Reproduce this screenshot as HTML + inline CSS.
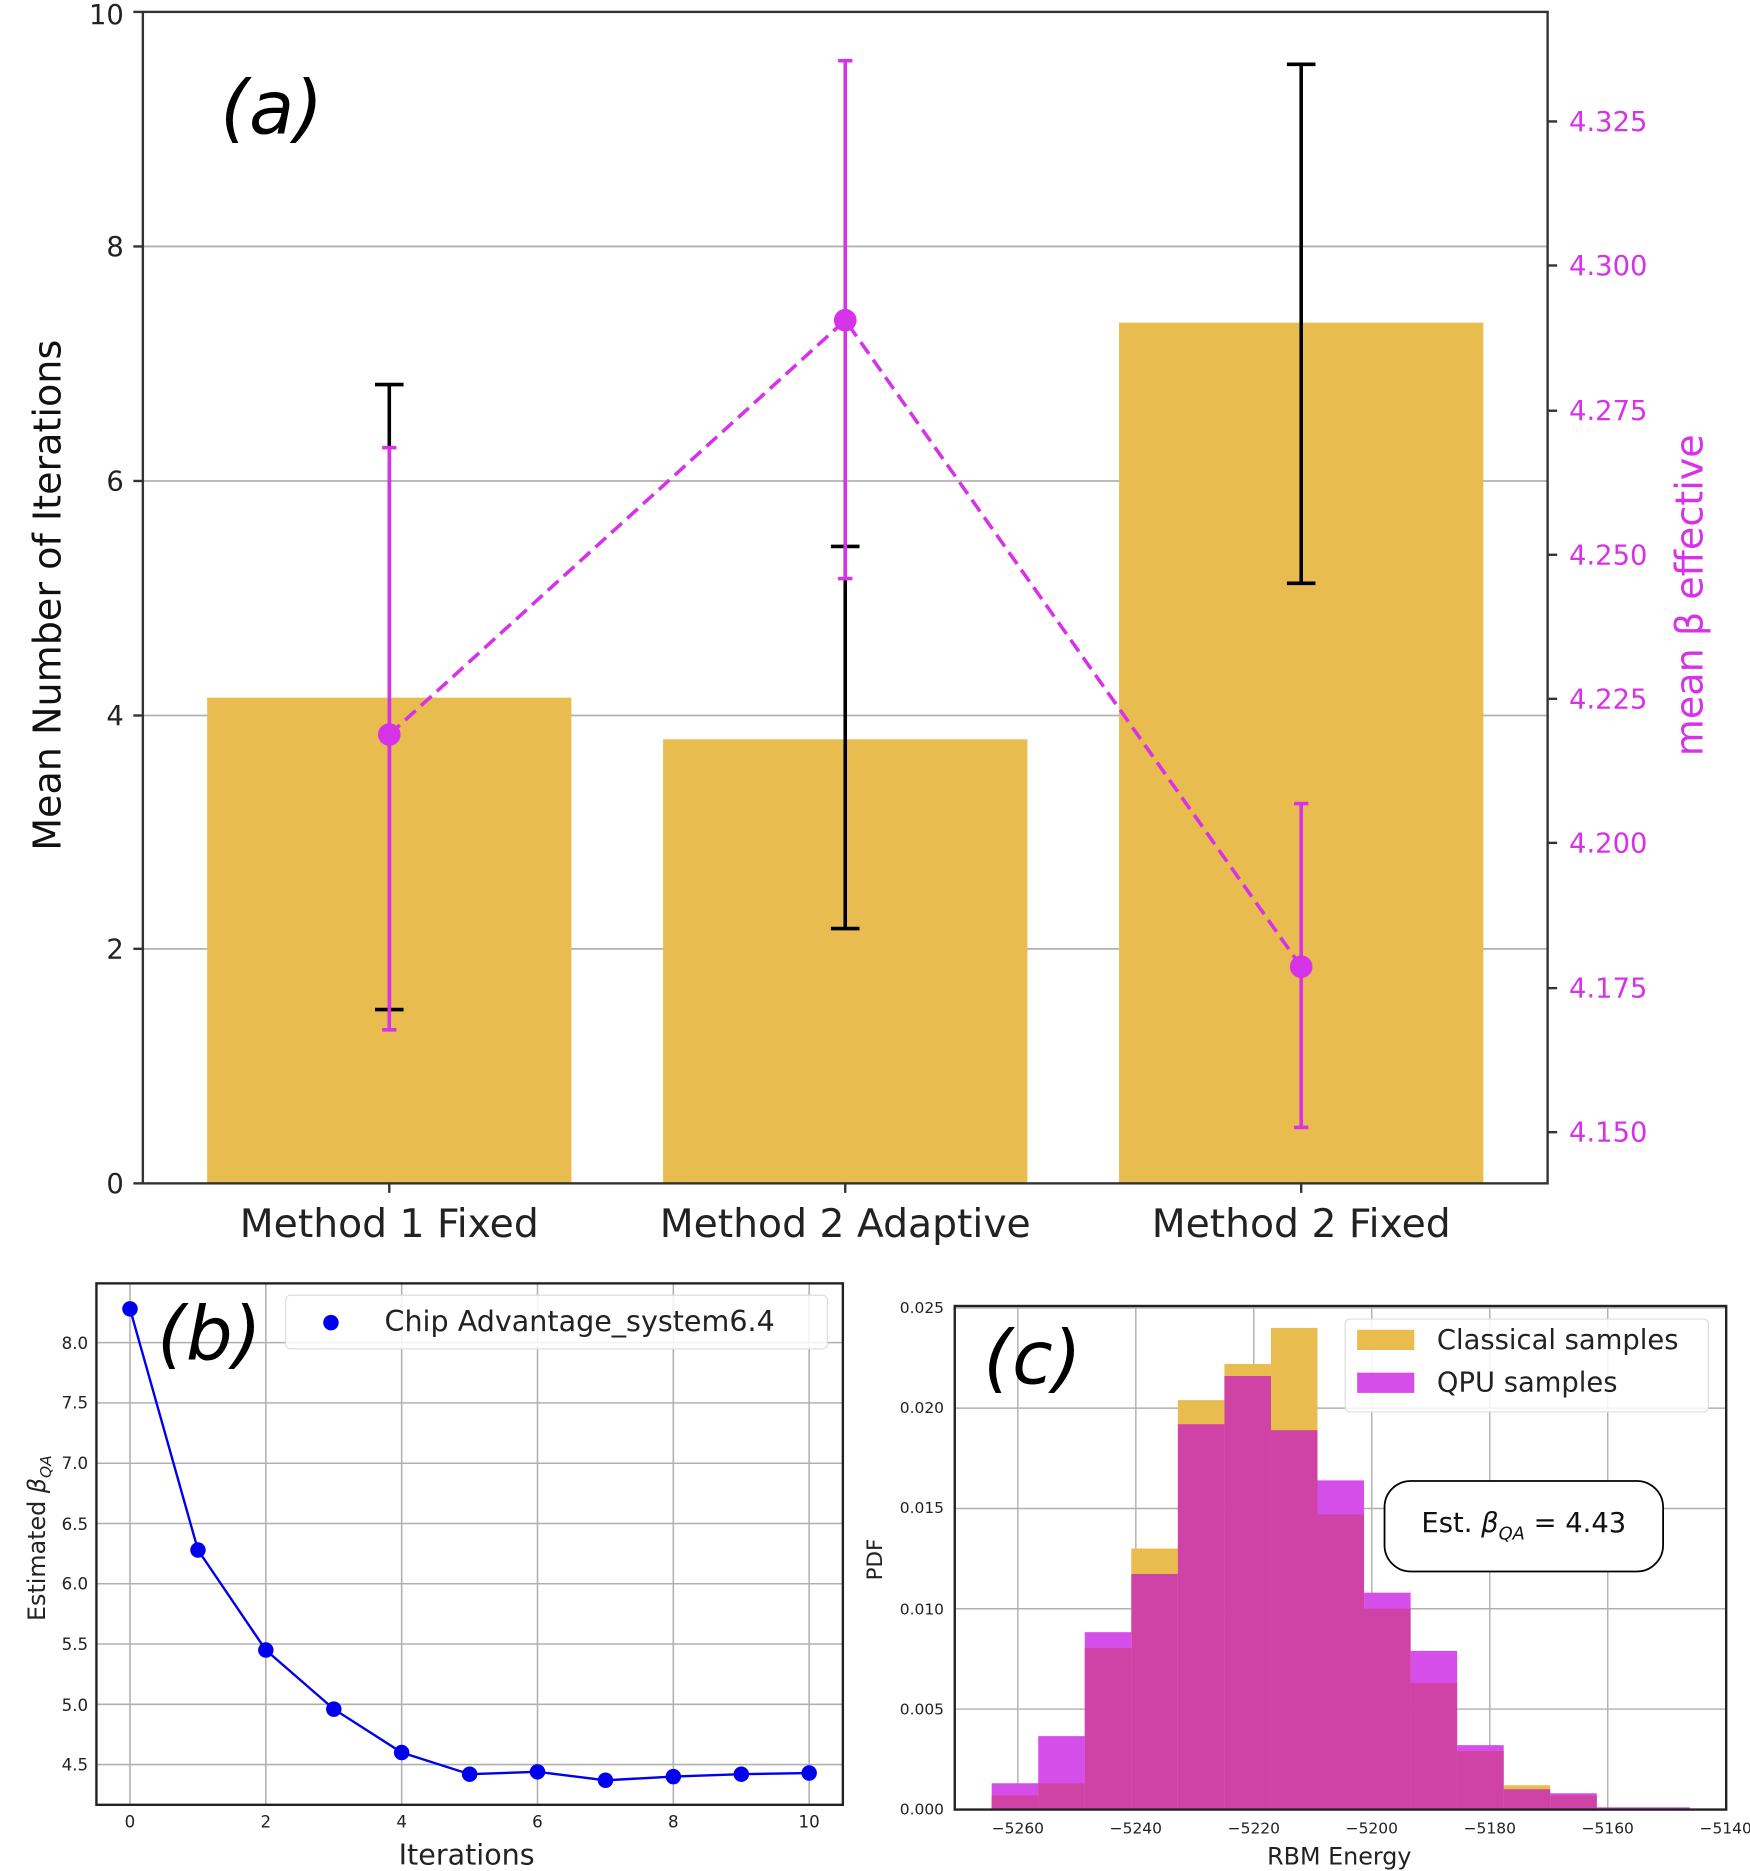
<!DOCTYPE html>
<html><head><meta charset="utf-8"><style>html,body{margin:0;padding:0;background:#fff}svg{display:block}text{font-family:"DejaVu Sans","Liberation Sans",sans-serif}</style></head>
<body>
<svg width="1750" height="1871" viewBox="0 0 1470 1571.6" preserveAspectRatio="none" xmlns="http://www.w3.org/2000/svg">
<rect width="1470" height="1571.6" fill="#fff"/>
<!-- Panel a -->
<g stroke="#b0b0b0" stroke-width="1.5">
<line x1="120" x2="1300" y1="207" y2="207"/><line x1="120" x2="1300" y1="404" y2="404"/>
<line x1="120" x2="1300" y1="601" y2="601"/><line x1="120" x2="1300" y1="797" y2="797"/>
</g>
<g fill="#e9bc50">
<rect x="174" y="586" width="306" height="408"/>
<rect x="557" y="621" width="306" height="373"/>
<rect x="940" y="271" width="306" height="723"/>
</g>
<g stroke="#000" stroke-width="3">
<line x1="327" x2="327" y1="323" y2="848"/><line x1="315" x2="339" y1="323" y2="323"/><line x1="315" x2="339" y1="848" y2="848"/>
<line x1="710" x2="710" y1="459" y2="780"/><line x1="698" x2="722" y1="459" y2="459"/><line x1="698" x2="722" y1="780" y2="780"/>
<line x1="1093" x2="1093" y1="54" y2="490"/><line x1="1081" x2="1105" y1="54" y2="54"/><line x1="1081" x2="1105" y1="490" y2="490"/>
</g>
<g stroke="#d633e8" stroke-width="3" fill="#d633e8">
<line x1="327" x2="327" y1="376" y2="865"/><line x1="321" x2="333" y1="376" y2="376"/><line x1="321" x2="333" y1="865" y2="865"/>
<line x1="710" x2="710" y1="51" y2="486"/><line x1="704" x2="716" y1="51" y2="51"/><line x1="704" x2="716" y1="486" y2="486"/>
<line x1="1093" x2="1093" y1="675" y2="947"/><line x1="1087" x2="1099" y1="675" y2="675"/><line x1="1087" x2="1099" y1="947" y2="947"/>
<polyline points="327,617 710,269 1093,812" fill="none" stroke-dasharray="12,6"/>
<circle cx="327" cy="617" r="8"/><circle cx="710" cy="269" r="8"/><circle cx="1093" cy="812" r="8"/>
</g>
<rect x="120" y="10" width="1180" height="984" fill="none" stroke="#333" stroke-width="2"/>
<g font-size="23" text-anchor="end" fill="#222">
<text x="104" y="1002">0</text><text x="104" y="805">2</text><text x="104" y="609">4</text><text x="104" y="412">6</text><text x="104" y="215">8</text><text x="104" y="20">10</text>
</g>
<g stroke="#333" stroke-width="2"><line x1="112" x2="120" y1="994" y2="994"/><line x1="112" x2="120" y1="797" y2="797"/><line x1="112" x2="120" y1="601" y2="601"/><line x1="112" x2="120" y1="404" y2="404"/><line x1="112" x2="120" y1="207" y2="207"/><line x1="112" x2="120" y1="10" y2="10"/>
<line x1="1300" x2="1308" y1="102" y2="102"/><line x1="1300" x2="1308" y1="223" y2="223"/><line x1="1300" x2="1308" y1="345" y2="345"/><line x1="1300" x2="1308" y1="466" y2="466"/><line x1="1300" x2="1308" y1="587" y2="587"/><line x1="1300" x2="1308" y1="708" y2="708"/><line x1="1300" x2="1308" y1="830" y2="830"/><line x1="1300" x2="1308" y1="951" y2="951"/>
<line x1="327" x2="327" y1="994" y2="1002"/><line x1="710" x2="710" y1="994" y2="1002"/><line x1="1093" x2="1093" y1="994" y2="1002"/></g>
<g font-size="23" fill="#d633e8">
<text x="1318" y="110">4.325</text><text x="1318" y="231">4.300</text><text x="1318" y="353">4.275</text><text x="1318" y="474">4.250</text><text x="1318" y="595">4.225</text><text x="1318" y="716">4.200</text><text x="1318" y="838">4.175</text><text x="1318" y="959">4.150</text>
</g>
<text font-size="32" fill="#d633e8" text-anchor="middle" transform="translate(1430,500) rotate(-90)">mean β effective</text>
<text font-size="32" fill="#111" text-anchor="middle" transform="translate(51,500) rotate(-90)">Mean Number of Iterations</text>
<g font-size="33" fill="#222" text-anchor="middle"><text x="327" y="1039">Method 1 Fixed</text><text x="710" y="1039">Method 2 Adaptive</text><text x="1093" y="1039">Method 2 Fixed</text></g>
<text x="185" y="112" font-size="62" font-family="'Liberation Serif', serif" font-style="italic" fill="#000">(a)</text>
<!-- Panel b -->
<g stroke="#b0b0b0" stroke-width="1.3">
<line x1="109.2" x2="109.2" y1="1078" y2="1516"/><line x1="223.3" x2="223.3" y1="1078" y2="1516"/><line x1="337.4" x2="337.4" y1="1078" y2="1516"/><line x1="451.5" x2="451.5" y1="1078" y2="1516"/><line x1="565.6" x2="565.6" y1="1078" y2="1516"/><line x1="679.7" x2="679.7" y1="1078" y2="1516"/>
<line x1="81" x2="708" y1="1127.8" y2="1127.8"/><line x1="81" x2="708" y1="1178.4" y2="1178.4"/><line x1="81" x2="708" y1="1229.1" y2="1229.1"/><line x1="81" x2="708" y1="1279.7" y2="1279.7"/><line x1="81" x2="708" y1="1330.3" y2="1330.3"/><line x1="81" x2="708" y1="1380.9" y2="1380.9"/><line x1="81" x2="708" y1="1431.6" y2="1431.6"/><line x1="81" x2="708" y1="1482.2" y2="1482.2"/>
</g>
<polyline points="109.2,1099.4 166.3,1302 223.3,1386 280.4,1435.6 337.4,1472.1 394.5,1490.3 451.5,1488.3 508.6,1495.4 565.6,1492.3 622.7,1490.3 679.7,1489.3" fill="none" stroke="#0000ee" stroke-width="2"/>
<g fill="#0000ee"><circle cx="109.2" cy="1099.4" r="6.5"/><circle cx="166.3" cy="1302" r="6.5"/><circle cx="223.3" cy="1386" r="6.5"/><circle cx="280.4" cy="1435.6" r="6.5"/><circle cx="337.4" cy="1472.1" r="6.5"/><circle cx="394.5" cy="1490.3" r="6.5"/><circle cx="451.5" cy="1488.3" r="6.5"/><circle cx="508.6" cy="1495.4" r="6.5"/><circle cx="565.6" cy="1492.3" r="6.5"/><circle cx="622.7" cy="1490.3" r="6.5"/><circle cx="679.7" cy="1489.3" r="6.5"/></g>
<rect x="81" y="1078" width="627" height="438" fill="none" stroke="#222" stroke-width="2"/>
<rect x="240" y="1088" width="455" height="45" rx="4" fill="#fff" fill-opacity="0.85" stroke="#ddd"/>
<circle cx="278" cy="1111" r="6.5" fill="#0000ee"/>
<text x="323" y="1118" font-size="24" fill="#222">Chip Advantage_system6.4</text>
<text x="132" y="1142" font-size="62" font-family="'Liberation Serif', serif" font-style="italic" fill="#000">(b)</text>
<g font-size="14" fill="#222" text-anchor="end"><text x="74" y="1133">8.0</text><text x="74" y="1183">7.5</text><text x="74" y="1234">7.0</text><text x="74" y="1285">6.5</text><text x="74" y="1335">6.0</text><text x="74" y="1386">5.5</text><text x="74" y="1437">5.0</text><text x="74" y="1487">4.5</text></g>
<g font-size="14" fill="#222" text-anchor="middle"><text x="109.2" y="1535">0</text><text x="223.3" y="1535">2</text><text x="337.4" y="1535">4</text><text x="451.5" y="1535">6</text><text x="565.6" y="1535">8</text><text x="679.7" y="1535">10</text></g>
<text x="392" y="1566" font-size="24" fill="#222" text-anchor="middle">Iterations</text>
<text font-size="20" fill="#222" text-anchor="middle" transform="translate(38,1292) rotate(-90)">Estimated <tspan font-style="italic">β</tspan><tspan font-size="13" font-style="italic" dy="5">QA</tspan></text>
<!-- Panel c -->
<g stroke="#b0b0b0" stroke-width="1.2">
<line x1="855" x2="855" y1="1097" y2="1520"/><line x1="954.1" x2="954.1" y1="1097" y2="1520"/><line x1="1053.2" x2="1053.2" y1="1097" y2="1520"/><line x1="1152.3" x2="1152.3" y1="1097" y2="1520"/><line x1="1251.4" x2="1251.4" y1="1097" y2="1520"/><line x1="1350.5" x2="1350.5" y1="1097" y2="1520"/>
<line x1="802" x2="1450" y1="1435.6" y2="1435.6"/><line x1="802" x2="1450" y1="1351.3" y2="1351.3"/><line x1="802" x2="1450" y1="1267.1" y2="1267.1"/><line x1="802" x2="1450" y1="1182.8" y2="1182.8"/><line x1="802" x2="1450" y1="1098.6" y2="1098.6"/>
</g>
<g>
<rect x="833" y="1497.9" width="39.1" height="21.9" fill="#d64ee9"/>
<rect x="872.1" y="1458.3" width="39.1" height="61.5" fill="#d64ee9"/>
<rect x="911.2" y="1371" width="39.1" height="148.8" fill="#d64ee9"/>
<rect x="950.3" y="1300.7" width="39.1" height="219.1" fill="#e9bc50"/>
<rect x="989.4" y="1176.1" width="39.1" height="343.7" fill="#e9bc50"/>
<rect x="1028.5" y="1145.7" width="39.1" height="374.1" fill="#e9bc50"/>
<rect x="1067.6" y="1115.4" width="39.1" height="404.4" fill="#e9bc50"/>
<rect x="1106.7" y="1243.5" width="39.1" height="276.3" fill="#d64ee9"/>
<rect x="1145.8" y="1337.8" width="39.1" height="182" fill="#d64ee9"/>
<rect x="1184.9" y="1386.7" width="39.1" height="133.1" fill="#d64ee9"/>
<rect x="1224" y="1465.9" width="39.1" height="53.9" fill="#d64ee9"/>
<rect x="1263.1" y="1499.6" width="39.1" height="20.2" fill="#e9bc50"/>
<rect x="1302.2" y="1506.3" width="39.1" height="13.5" fill="#d64ee9"/>
<rect x="1341.3" y="1518.1" width="78.2" height="1.7" fill="#d64ee9"/>
</g>
<g fill="#d043a6">
<rect x="833" y="1508" width="39.1" height="11.8"/>
<rect x="872.1" y="1497.9" width="39.1" height="21.9"/>
<rect x="911.2" y="1384.3" width="39.1" height="135.5"/>
<rect x="950.3" y="1322.1" width="39.1" height="197.7"/>
<rect x="989.4" y="1196.3" width="39.1" height="323.5"/>
<rect x="1028.5" y="1155.8" width="39.1" height="364"/>
<rect x="1067.6" y="1201.3" width="39.1" height="318.5"/>
<rect x="1106.7" y="1272.1" width="39.1" height="247.7"/>
<rect x="1145.8" y="1351.3" width="39.1" height="168.5"/>
<rect x="1184.9" y="1413.6" width="39.1" height="106.2"/>
<rect x="1224" y="1470.9" width="39.1" height="48.9"/>
<rect x="1263.1" y="1502.9" width="39.1" height="16.9"/>
<rect x="1302.2" y="1508" width="39.1" height="11.8"/>
</g>
<rect x="802" y="1097" width="648" height="423" fill="none" stroke="#222" stroke-width="2"/>
<g font-size="13" fill="#222" text-anchor="end"><text x="793" y="1524">0.000</text><text x="793" y="1440">0.005</text><text x="793" y="1356">0.010</text><text x="793" y="1271">0.015</text><text x="793" y="1187">0.020</text><text x="793" y="1103">0.025</text></g>
<g font-size="13" fill="#222" text-anchor="middle"><text x="855" y="1540">−5260</text><text x="954.1" y="1540">−5240</text><text x="1053.2" y="1540">−5220</text><text x="1152.3" y="1540">−5200</text><text x="1251.4" y="1540">−5180</text><text x="1350.5" y="1540">−5160</text><text x="1449.6" y="1540">−5140</text></g>
<text x="1125" y="1566" font-size="20" fill="#222" text-anchor="middle">RBM Energy</text>
<text font-size="18" fill="#222" text-anchor="middle" transform="translate(741,1310) rotate(-90)">PDF</text>
<rect x="1130" y="1108" width="305" height="78" rx="4" fill="#fff" fill-opacity="0.85" stroke="#ddd"/>
<rect x="1140" y="1117" width="48" height="17" fill="#e9bc50"/>
<rect x="1140" y="1153" width="48" height="17" fill="#d64ee9"/>
<text x="1207" y="1133" font-size="23" fill="#222">Classical samples</text>
<text x="1207" y="1169" font-size="23" fill="#222">QPU samples</text>
<rect x="1163" y="1244" width="234" height="76" rx="22" fill="#fff" stroke="#000" stroke-width="1.5"/>
<text x="1280" y="1287" font-size="23" fill="#111" text-anchor="middle">Est. <tspan font-style="italic">β</tspan><tspan font-size="15" font-style="italic" dy="6">QA</tspan><tspan dy="-6"> = 4.43</tspan></text>
<text x="826" y="1162" font-size="62" font-family="'Liberation Serif', serif" font-style="italic" fill="#000">(c)</text>
</svg>
</body></html>
